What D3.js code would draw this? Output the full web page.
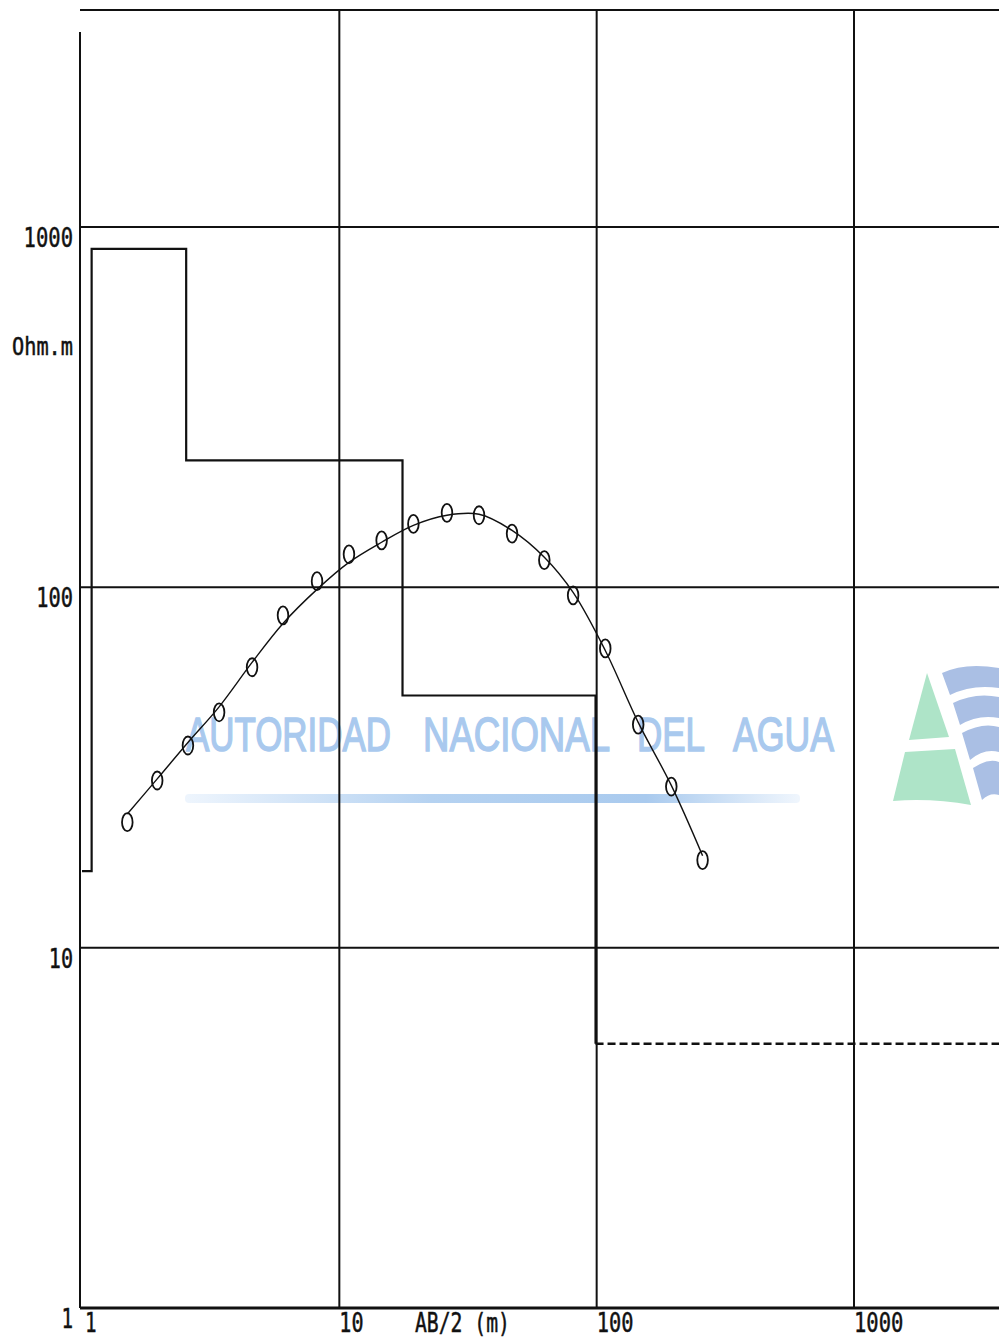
<!DOCTYPE html>
<html>
<head>
<meta charset="utf-8">
<script src="https://cdn.jsdelivr.net/npm/d3@7"></script>
<style>
  html, body { margin: 0; padding: 0; background: #fff; }
  svg { display: block; }
  .lbl { font-family: "DejaVu Sans Mono", monospace; font-size: 27px; fill: #111; stroke: #111; stroke-width: 0.5px; }
</style>
</head>
<body>
<svg id="chart" width="999" height="1337"></svg>
<script>
// Sounding station: apparent resistivity vs AB/2 (log-log)
const abHalf   = [1.5, 1.96, 2.58, 3.41, 4.58, 6.04, 8.19, 10.9, 14.6, 19.4, 26.2, 34.9, 46.9, 62.6, 81, 108, 145, 195, 258];
const rhoField = [22.3, 29.1, 36.4, 45.0, 60.0, 83.6, 104, 123.5, 135, 150, 161, 158.5, 141, 119, 95, 67.7, 41.6, 28.0, 17.5];
const rhoCalc  = [23.5, 29.4, 37.1, 46.6, 61.9, 79.4, 98.7, 117.3, 133.4, 148.6, 158.5, 159.5, 143.9, 121.2, 96.8, 66.8, 42.2, 28.2, 18.0];

// Layered model: boundaries (m) and resistivities (Ohm.m)
const modelX   = [1, 1.09, 2.54, 17.6, 99];
const modelRho = [16.3, 869, 225, 50.1, 5.41];

const xTicks = [1, 10, 100, 1000];
const yTicks = [1, 10, 100, 1000];
const xTitle = "AB/2 (m)";
const yTitle = "Ohm.m";

const W = 999, H = 1337;
const svg = d3.select("#chart");

const x = d3.scaleLog().domain([1, 1000]).range([82, 854]);
const y = d3.scaleLog().domain([1, 1000]).range([1308, 227]);
const xMax = x.invert(W + 2);
const yMax = 4000;

const pLeft = x(1) - 2, pBottom = y(1), pTop = y(yMax), pRight = W + 2;

// ---- watermark (drawn underneath) ----
const wm = svg.append("g").attr("class", "watermark");
const defs = svg.append("defs");
const grad = defs.append("linearGradient").attr("id", "wmbar").attr("x1", "0%").attr("x2", "100%");
grad.append("stop").attr("offset", "0%").attr("stop-color", "#eef5fd");
grad.append("stop").attr("offset", "40%").attr("stop-color", "#b5d2f1");
grad.append("stop").attr("offset", "75%").attr("stop-color", "#a9caee");
grad.append("stop").attr("offset", "100%").attr("stop-color", "#f0f6fd");

const words = [
  {t: "AUTORIDAD", x0: 186, x1: 391},
  {t: "NACIONAL", x0: 423, x1: 610},
  {t: "DEL", x0: 637, x1: 705},
  {t: "AGUA", x0: 733, x1: 834}
];
wm.selectAll("text").data(words).join("text")
  .attr("transform", d => `translate(${d.x0},751) scale(1,1.32)`)
  .attr("x", 0).attr("y", 0)
  .attr("textLength", d => d.x1 - d.x0)
  .attr("lengthAdjust", "spacingAndGlyphs")
  .style("font-family", "'Liberation Sans', Arial, sans-serif")
  .style("font-size", "36px")
  .style("fill", "#a9c9ee")
  .style("stroke", "#a9c9ee")
  .style("stroke-width", "1.1px")
  .text(d => d.t);
wm.append("rect").attr("x", 185).attr("y", 794).attr("width", 615).attr("height", 9)
  .attr("rx", 4).attr("fill", "url(#wmbar)");

// logo: green peak and blue waves
wm.append("path").attr("d", "M927,673 L949,737 L909,740 Z").attr("fill", "#aee4c8");
wm.append("path").attr("d", "M905,752 L955,749 L971,805 Q932,798 893,801 Z").attr("fill", "#aee4c8");
const waves = [
  "M942,673 Q965,662 999,668 L999,688 Q972,684 950,695 Z",
  "M953,703 Q975,692 999,697 L999,718 Q978,714 960,725 Z",
  "M962,733 Q982,722 999,727 L999,752 Q984,748 970,760 Z",
  "M973,768 Q988,758 999,762 L999,795 Q990,792 982,800 Z"
];
wm.selectAll("path.wave").data(waves).join("path").attr("class", "wave")
  .attr("d", d => d).attr("fill", "#aabfe4");

// ---- grid and frame ----
const g = svg.append("g").attr("stroke", "#111").attr("fill", "none");
g.selectAll("line.hg").data(yTicks.filter(v => v > 1)).join("line").attr("class", "hg")
  .attr("x1", pLeft).attr("x2", pRight).attr("y1", d => y(d)).attr("y2", d => y(d))
  .attr("stroke-width", 2);
g.selectAll("line.vg").data(xTicks.filter(v => v > 1)).join("line").attr("class", "vg")
  .attr("y1", pTop).attr("y2", pBottom).attr("x1", d => x(d)).attr("x2", d => x(d))
  .attr("stroke-width", 2);
// frame: top, left, bottom
g.append("line").attr("x1", pLeft).attr("x2", pRight).attr("y1", pTop).attr("y2", pTop).attr("stroke-width", 2);
g.append("line").attr("x1", pLeft).attr("x2", pLeft).attr("y1", pTop + 22).attr("y2", pBottom).attr("stroke-width", 2);
g.append("line").attr("x1", pLeft).attr("x2", pRight).attr("y1", pBottom).attr("y2", pBottom).attr("stroke-width", 3);

// ---- axis labels ----
const lab = svg.append("g");
const digitW = 12.6;
lab.selectAll("text.yl").data(yTicks).join("text").attr("class", "lbl yl")
  .attr("x", d => 74 - String(d).length * digitW)
  .attr("y", d => y(d) + 20)
  .attr("textLength", d => String(d).length * digitW - 1)
  .attr("lengthAdjust", "spacingAndGlyphs")
  .text(d => d);
lab.selectAll("text.xl").data(xTicks).join("text").attr("class", "lbl xl")
  .attr("x", d => x(d) + (d === 1 ? 3 : 0))
  .attr("y", pBottom + 24)
  .attr("textLength", d => String(d).length * digitW - 1)
  .attr("lengthAdjust", "spacingAndGlyphs")
  .text(d => d);
lab.append("text").attr("class", "lbl")
  .attr("x", 415).attr("y", pBottom + 24)
  .attr("textLength", 95).attr("lengthAdjust", "spacingAndGlyphs")
  .text(xTitle);
lab.append("text").attr("class", "lbl")
  .style("font-size", "24px")
  .attr("x", 12).attr("y", 355)
  .attr("textLength", 61).attr("lengthAdjust", "spacingAndGlyphs")
  .text(yTitle);

// ---- layered model ----
const stepLine = d3.line().x(d => x(d[0])).y(d => y(d[1])).curve(d3.curveStepAfter);
svg.append("path")
  .datum(modelX.map((v, i) => [v, modelRho[i]]))
  .attr("d", stepLine)
  .attr("fill", "none").attr("stroke", "#111").attr("stroke-width", 2.2);
const last = modelRho.length - 1;
svg.append("line")
  .attr("x1", x(modelX[last])).attr("x2", x(xMax))
  .attr("y1", y(modelRho[last])).attr("y2", y(modelRho[last]))
  .attr("stroke", "#111").attr("stroke-width", 2.6).attr("stroke-dasharray", "8,4");

// ---- computed sounding curve ----
const curveLine = d3.line().x((d, i) => x(abHalf[i])).y(d => y(d)).curve(d3.curveCatmullRom);
svg.append("path").datum(rhoCalc)
  .attr("d", curveLine)
  .attr("fill", "none").attr("stroke", "#111").attr("stroke-width", 1.4);

// ---- field measurements ----
svg.append("g").selectAll("ellipse").data(rhoField).join("ellipse")
  .attr("cx", (d, i) => x(abHalf[i])).attr("cy", d => y(d))
  .attr("rx", 5.3).attr("ry", 9)
  .attr("fill", "none").attr("stroke", "#111").attr("stroke-width", 1.8);
</script>
</body>
</html>
